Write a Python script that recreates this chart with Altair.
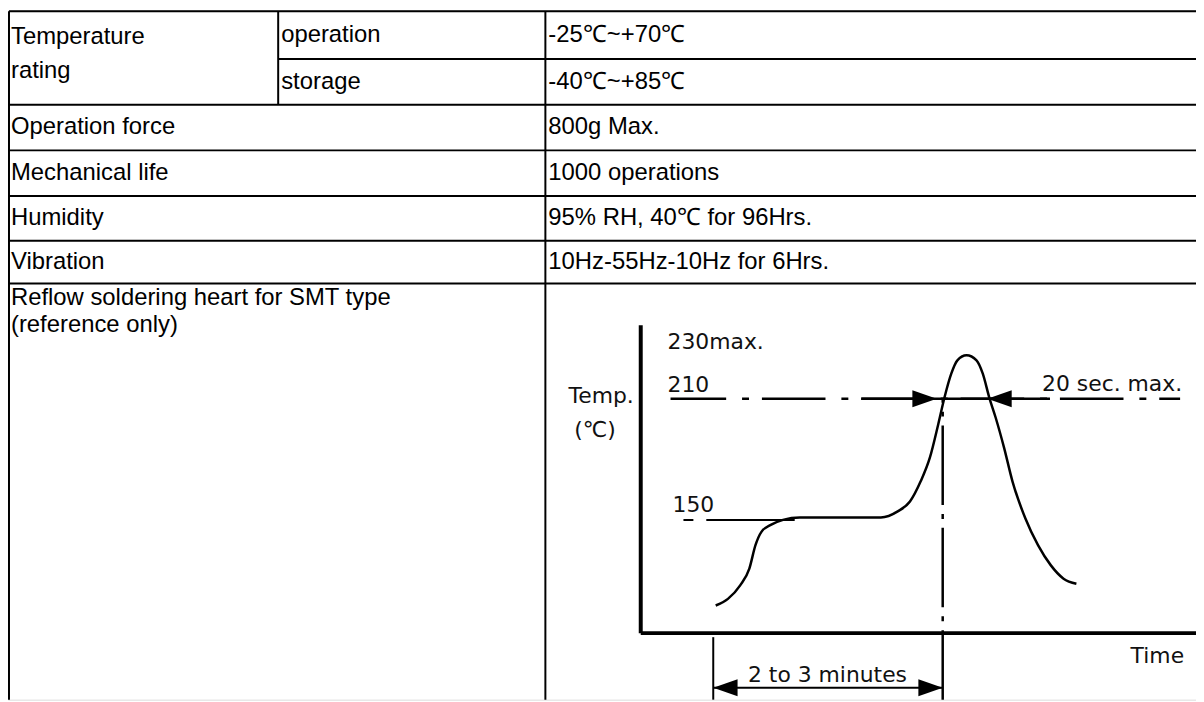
import altair as alt
import pandas as pd

# ---------------- data ----------------
PARAM_LABELS = ["Temperature\nrating", "Operation force", "Mechanical life",
                "Humidity", "Vibration", "Reflow soldering heart for SMT type\n(reference only)"]
SUB_LABELS = ["operation", "storage"]
VALUES = ["-25℃~+70℃", "-40℃~+85℃", "800g Max.", "1000 operations",
          "95% RH, 40℃ for 96Hrs.", "10Hz-55Hz-10Hz for 6Hrs."]

# reflow profile (time in s from the temperature axis, temperature in ℃)
CURVE_T = [49, 57, 65, 71, 75, 79, 85, 93, 104, 157, 168, 176, 183, 189, 194.5, 198.6,
           203, 207, 213, 219.5, 223.6, 227.8, 232, 237.5, 243, 251.4, 259.7, 268, 276.4, 284.8]
CURVE_TEMP = [107.6, 110.9, 117.6, 125.9, 137.5, 144.2, 147.5, 150, 151.2, 151.2, 154.2, 159.1,
              169.1, 180.8, 197.4, 210.7, 222.4, 229, 231.5, 229, 222.4, 210.7, 200.7, 185.8,
              169.1, 150.8, 137.5, 127.6, 120.9, 118.4]
PREHEAT_TEMP = 150
REFLOW_TEMP = 210
PEAK_LABEL = "230max."
SOAK_START_T = 47.4      # start of "2 to 3 minutes"
SOAK_END_T = 197.4       # end of "2 to 3 minutes"
ARROW_IN_T = 193.5       # 20 sec window arrows
ARROW_OUT_T = 226.6

# ---------------- layout ----------------
W, H = 1196, 694          # plot area (page pixels 8..1204, 8..702)
PX0, PY0 = 8, 8
COL_X = [9, 280, 549]
RIGHT_X = 1204
ROW_Y = [9, 57, 103, 149, 195, 240, 283]
BOTTOM_Y = 702
FONT = "Liberation Sans"
FS = 24

# diagram placement: t=0 at page x 645, 150℃ at page y 521
DX0, DPX = 645, 1.54
DY150, DPY = 521, 2.033
T_DOM = [(PX0 - DX0) / DPX, (PX0 + W - DX0) / DPX]
C_DOM = [150 - (PY0 + H - DY150) / DPY, 150 + (DY150 - PY0) / DPY]
AXIS_TEMP = 150 - (635 - DY150) / DPY
AXIS_TOP = 150 + (DY150 - 325) / DPY
AXIS_END_T = (1204 - DX0) / DPX
BOTTOM_TEMP = C_DOM[0]
ARROW_TEMP = 150 - (690 - DY150) / DPY


def px(f):
    return alt.X(f, type="quantitative", scale=alt.Scale(domain=[PX0, PX0 + W], nice=False, zero=False), axis=None)


def py(f):
    return alt.Y(f, type="quantitative", scale=alt.Scale(domain=[PY0, PY0 + H], reverse=True, nice=False, zero=False), axis=None)


def dx(f):
    return alt.X(f, type="quantitative", scale=alt.Scale(domain=T_DOM, nice=False, zero=False), axis=None)


def dy(f):
    return alt.Y(f, type="quantitative", scale=alt.Scale(domain=C_DOM, nice=False, zero=False), axis=None)


# ---------------- table grid ----------------
hl = [{"x": COL_X[0], "x2": RIGHT_X, "y": ROW_Y[0]},
      {"x": COL_X[1], "x2": RIGHT_X, "y": ROW_Y[1]}]
for yy in ROW_Y[2:]:
    hl.append({"x": COL_X[0], "x2": RIGHT_X, "y": yy})
hlines = alt.Chart(pd.DataFrame(hl)).mark_rule(color="black", strokeWidth=2).encode(
    x=px("x"), x2="x2", y=py("y"))

vl = [{"x": COL_X[0], "y": ROW_Y[0], "y2": BOTTOM_Y},
      {"x": COL_X[1], "y": ROW_Y[0], "y2": ROW_Y[2]},
      {"x": COL_X[2], "y": ROW_Y[0], "y2": BOTTOM_Y}]
vlines = alt.Chart(pd.DataFrame(vl)).mark_rule(color="black", strokeWidth=2).encode(
    x=px("x"), y=py("y"), y2="y2")

# ---------------- table text ----------------
mid = lambda a, b: (a + b) / 2
rows = [{"t": PARAM_LABELS[0], "x": COL_X[0] + 2, "y": mid(ROW_Y[0], ROW_Y[1]) + 2}]
for i, lab in enumerate(SUB_LABELS):
    rows.append({"t": lab, "x": COL_X[1] + 3, "y": mid(ROW_Y[i], ROW_Y[i + 1])})
for i, v in enumerate(VALUES):
    rows.append({"t": v, "x": COL_X[2] + 3, "y": mid(ROW_Y[i], ROW_Y[i + 1])})
for i, lab in enumerate(PARAM_LABELS[1:5]):
    rows.append({"t": lab, "x": COL_X[0] + 2, "y": mid(ROW_Y[i + 2], ROW_Y[i + 3])})
cell_text = alt.Chart(pd.DataFrame(rows)).mark_text(
    align="left", baseline="middle", font=FONT, fontSize=FS, color="black",
    lineBreak="\n", lineHeight=34).encode(x=px("x"), y=py("y"), text="t:N")

reflow_text = alt.Chart(pd.DataFrame([{"t": PARAM_LABELS[5], "x": COL_X[0] + 2, "y": ROW_Y[6] + 3}])).mark_text(
    align="left", baseline="top", font=FONT, fontSize=FS, color="black",
    lineBreak="\n", lineHeight=27).encode(x=px("x"), y=py("y"), text="t:N")

# ---------------- diagram ----------------
axes_df = pd.DataFrame([
    {"t": 0, "t2": 0, "c": AXIS_TEMP, "c2": AXIS_TOP},
    {"t": 0, "t2": AXIS_END_T, "c": AXIS_TEMP, "c2": AXIS_TEMP},
])
axes = alt.Chart(axes_df).mark_rule(color="black", strokeWidth=4).encode(
    x=dx("t"), x2="t2", y=dy("c"), y2="c2")

curve = alt.Chart(pd.DataFrame({"t": CURVE_T, "c": CURVE_TEMP})).mark_line(
    color="black", strokeWidth=2.5, interpolate="monotone").encode(x=dx("t"), y=dy("c"), order="t:Q")

l210 = alt.Chart(pd.DataFrame([{"t": (675 - DX0) / DPX, "t2": (1188 - DX0) / DPX, "c": REFLOW_TEMP}])).mark_rule(
    color="black", strokeWidth=2.5, strokeDash=[64, 16, 7, 13], strokeDashOffset=8).encode(
    x=dx("t"), x2="t2", y=dy("c"))
l210s = alt.Chart(pd.DataFrame([{"t": (867 - DX0) / DPX, "t2": (1057 - DX0) / DPX, "c": REFLOW_TEMP}])).mark_rule(
    color="black", strokeWidth=2.5).encode(x=dx("t"), x2="t2", y=dy("c"))

l150 = alt.Chart(pd.DataFrame([{"t": (688 - DX0) / DPX, "t2": (800 - DX0) / DPX, "c": PREHEAT_TEMP}])).mark_rule(
    color="black", strokeWidth=2, strokeDash=[10, 13, 200, 0]).encode(x=dx("t"), x2="t2", y=dy("c"))

vdash = alt.Chart(pd.DataFrame([{"t": SOAK_END_T, "c": REFLOW_TEMP, "c2": BOTTOM_TEMP}])).mark_rule(
    color="black", strokeWidth=2.5, strokeDash=[80, 9, 5, 9], strokeDashOffset=76).encode(
    x=dx("t"), y=dy("c"), y2="c2")

vtick = alt.Chart(pd.DataFrame([{"t": SOAK_START_T, "c": AXIS_TEMP - 2, "c2": BOTTOM_TEMP}])).mark_rule(
    color="black", strokeWidth=2).encode(x=dx("t"), y=dy("c"), y2="c2")

harrow = alt.Chart(pd.DataFrame([{"t": SOAK_START_T, "t2": SOAK_END_T, "c": ARROW_TEMP}])).mark_rule(
    color="black", strokeWidth=2).encode(x=dx("t"), x2="t2", y=dy("c"))

LEFT_HEAD = "M0,0L2,-0.7L2,0.7Z"
RIGHT_HEAD = "M0,0L-2,-0.7L-2,0.7Z"
heads_l = alt.Chart(pd.DataFrame([{"t": SOAK_START_T, "c": ARROW_TEMP}, {"t": ARROW_OUT_T, "c": REFLOW_TEMP}])).mark_point(
    shape=LEFT_HEAD, size=600, filled=True, color="black", opacity=1, strokeWidth=1).encode(x=dx("t"), y=dy("c"))
heads_r = alt.Chart(pd.DataFrame([{"t": SOAK_END_T, "c": ARROW_TEMP}, {"t": ARROW_IN_T, "c": REFLOW_TEMP}])).mark_point(
    shape=RIGHT_HEAD, size=600, filled=True, color="black", opacity=1, strokeWidth=1).encode(x=dx("t"), y=dy("c"))

DFONT = "DejaVu Sans"
DFS = 22
lab_left = pd.DataFrame([
    {"s": PEAK_LABEL, "t": (672 - DX0) / DPX, "c": 150 + (DY150 - 342) / DPY},
    {"s": str(REFLOW_TEMP), "t": (672 - DX0) / DPX, "c": 150 + (DY150 - 385) / DPY},
    {"s": str(PREHEAT_TEMP), "t": (677 - DX0) / DPX, "c": 150 + (DY150 - 506) / DPY},
])
t_left = alt.Chart(lab_left).mark_text(align="left", baseline="middle", font=DFONT, fontSize=DFS, color="#111").encode(
    x=dx("t"), y=dy("c"), text="s:N")
lab_right = pd.DataFrame([
    {"s": "20 sec. max.", "t": (1190 - DX0) / DPX, "c": 150 + (DY150 - 384) / DPY},
    {"s": "Temp.", "t": (638 - DX0) / DPX, "c": 150 + (DY150 - 396) / DPY},
    {"s": "Time", "t": (1192 - DX0) / DPX, "c": 150 + (DY150 - 658) / DPY},
])
t_right = alt.Chart(lab_right).mark_text(align="right", baseline="middle", font=DFONT, fontSize=DFS, color="#111").encode(
    x=dx("t"), y=dy("c"), text="s:N")
lab_center = pd.DataFrame([
    {"s": "(℃)", "t": (599 - DX0) / DPX, "c": 150 + (DY150 - 431) / DPY},
    {"s": "2 to 3 minutes", "t": (833 - DX0) / DPX, "c": 150 + (DY150 - 677) / DPY},
])
t_center = alt.Chart(lab_center).mark_text(align="center", baseline="middle", font=DFONT, fontSize=DFS, color="#111").encode(
    x=dx("t"), y=dy("c"), text="s:N")

chart = alt.layer(
    hlines, vlines, cell_text, reflow_text,
    axes, l210, l210s, l150, vdash, vtick, harrow, curve, heads_l, heads_r,
    t_left, t_right, t_center,
).resolve_scale(x="independent", y="independent").properties(
    width=W, height=H, padding=0, autosize=alt.AutoSizeParams(type="none")
).configure_view(stroke=None).configure(background="white")

chart.save("out.html", embed_options={"renderer": "svg", "actions": False})
